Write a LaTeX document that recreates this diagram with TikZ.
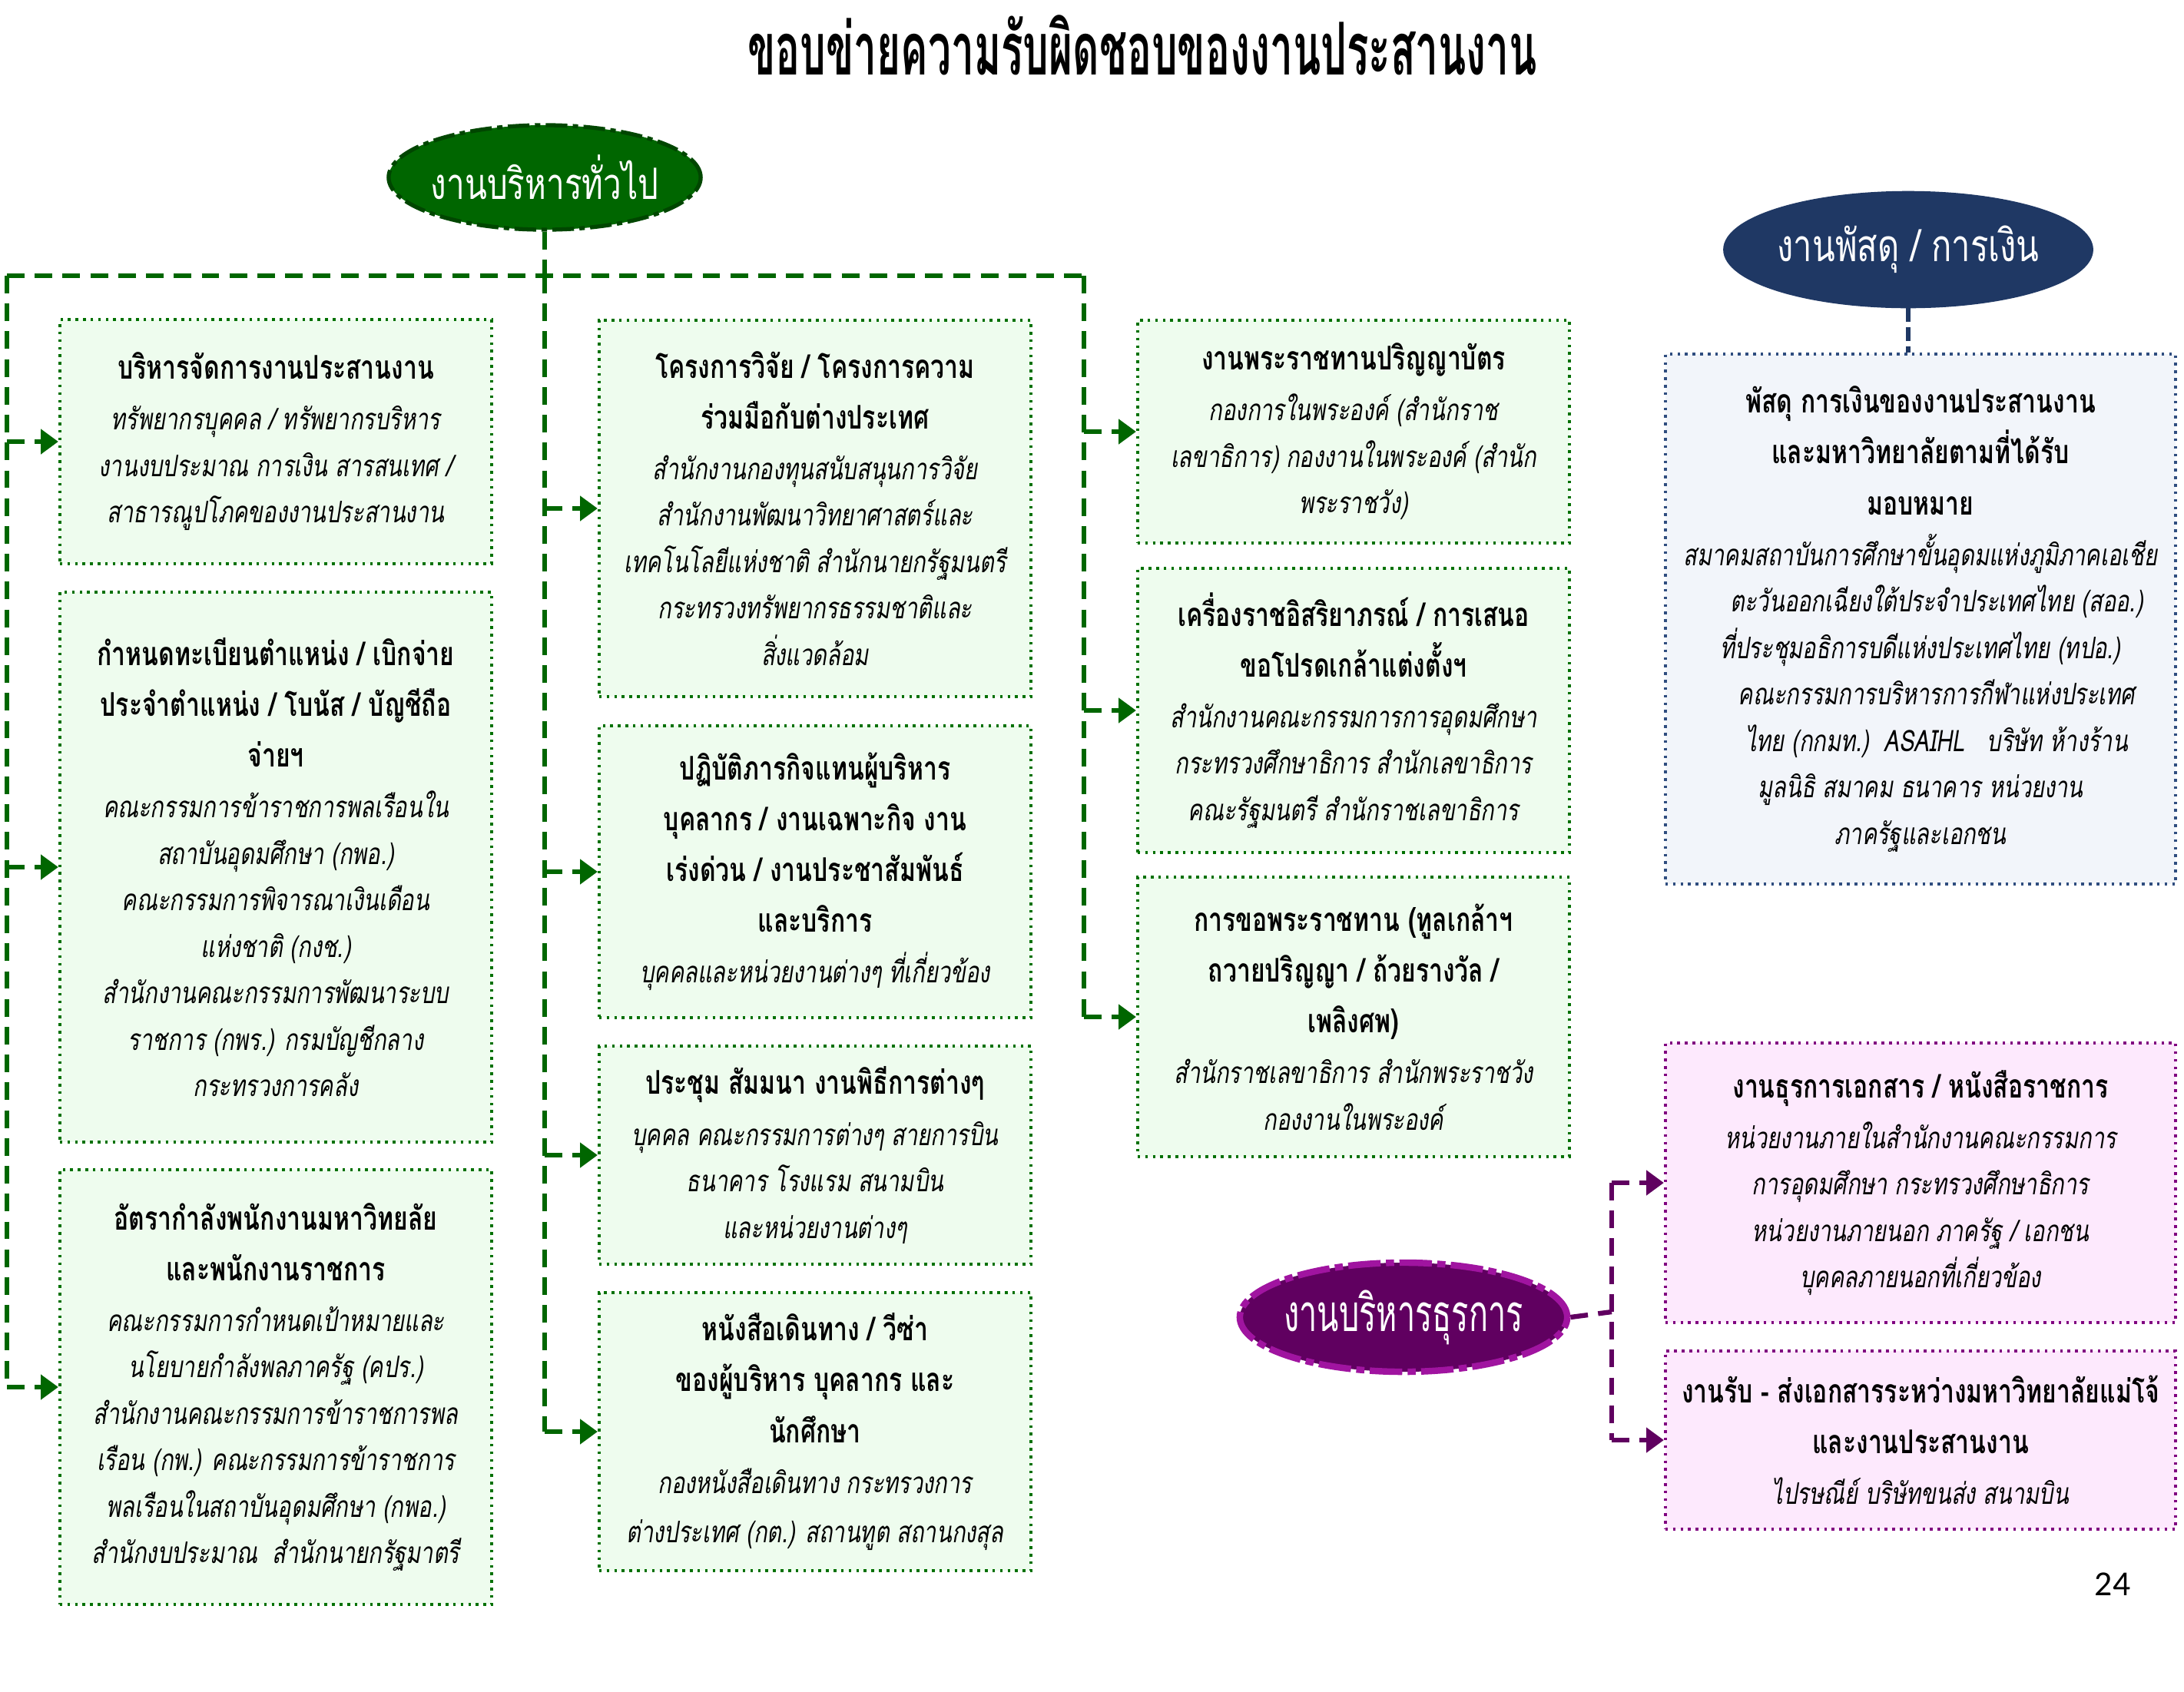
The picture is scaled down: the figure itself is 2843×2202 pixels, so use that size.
\documentclass[tikz,border=0pt]{standalone}
\usepackage{fontspec}
\usetikzlibrary{shapes.geometric,arrows.meta}
\newfontfamily\thaic[Script=Thai,FakeStretch=0.75]{Loma}
\newfontfamily\thait[Script=Thai,FakeStretch=0.56]{Loma}
\newfontfamily\thaip[Script=Thai,FakeStretch=0.62]{Loma}
\newfontfamily\numfont{Carlito}
\definecolor{cGreen}{RGB}{0,102,0}
\definecolor{cGDark}{RGB}{0,70,0}
\definecolor{cGFill}{RGB}{238,252,238}
\definecolor{cGBord}{RGB}{0,112,0}
\definecolor{cNavy}{RGB}{31,56,100}
\definecolor{cNFill}{RGB}{242,245,250}
\definecolor{cNBord}{RGB}{47,77,127}
\definecolor{cPurp}{RGB}{96,0,96}
\definecolor{cPLight}{RGB}{160,20,160}
\definecolor{cPFill}{RGB}{253,233,253}
\definecolor{cPBord}{RGB}{128,0,128}
\newcommand\hb[1]{{\bfseries\fontsize{12.1pt}{17.2pt}\selectfont #1}}
\newcommand\ti[1]{{\itshape #1}}
\newcommand\bl{\\[1.6pt]}
\tikzset{
  boxbase/.style={line width=1.1pt, dash pattern=on 1pt off 1.8pt, inner sep=0pt, align=center,
    font=\thaic\fontsize{11pt}{17.2pt}\selectfont},
  gbox/.style={boxbase, draw=cGBord, fill=cGFill},
  nbox/.style={boxbase, draw=cNBord, fill=cNFill},
  pbox/.style={boxbase, draw=cPBord, fill=cPFill},
  gline/.style={draw=cGreen, line width=1.8pt, dash pattern=on 6.5pt off 3.8pt},
  garrow/.style={gline, -{Triangle[length=6.5pt,width=9pt]}},
  pline/.style={draw=cPurp, line width=1.8pt, dash pattern=on 6.5pt off 3.8pt},
  parrow/.style={pline, -{Triangle[length=6.5pt,width=9pt]}},
  nline/.style={draw=cNavy, line width=1.6pt, dash pattern=on 5pt off 2pt},
  ellbase/.style={ellipse, inner sep=0pt},
  elltext/.style={text=white, inner sep=0pt}
}
\begin{document}
\begin{tikzpicture}[x=0.01cm, y=-0.01cm]
\useasboundingbox (0,0) rectangle (2843,2202);
\fill[white] (0,0) rectangle (2843,2202);

% title
\node[font=\thait\bfseries\fontsize{27pt}{30pt}\selectfont] (title) at (1487,59) {ขอบข่ายความรับผิดชอบของงานประสานงาน};

% ellipses
\node[ellbase, fill=cGreen, draw=cGDark, line width=1.5pt, dash pattern=on 8pt off 2pt on 2pt off 2pt,
  minimum width=4.06cm, minimum height=1.36cm] (GE) at (709,231) {};
\node[elltext, font=\thaic\fontsize{16pt}{20pt}\selectfont] (GEt) at (GE.center) {งานบริหารทั่วไป};
\node[ellbase, fill=cNavy, draw=cNavy, line width=1pt,
  minimum width=4.78cm, minimum height=1.49cm] (NE) at (2484,325) {};
\node[elltext, font=\thaic\fontsize{16.5pt}{20pt}\selectfont] (NEt) at (NE.center) {งานพัสดุ / การเงิน};
\node[ellbase, fill=cPurp, draw=cPLight, line width=2.4pt, dash pattern=on 12pt off 2pt on 3pt off 2pt,
  minimum width=4.26cm, minimum height=1.42cm] (PE) at (1827,1715) {};
\node[elltext, font=\thaip\fontsize{19pt}{22pt}\selectfont] (PEt) at (PE.center) {งานบริหารธุรการ};

% column 1
\node[gbox, minimum width=5.62cm, minimum height=3.17cm] (A) at (359,575) {%
\hb{บริหารจัดการงานประสานงาน}\bl
\ti{ทรัพยากรบุคคล / ทรัพยากรบริหาร}\\
\ti{งานงบประมาณ การเงิน สารสนเทศ /}\\
\ti{สาธารณูปโภคของงานประสานงาน}};
\node[gbox, minimum width=5.62cm, minimum height=7.16cm] (B) at (359,1129) {%
\hb{กำหนดทะเบียนตำแหน่ง / เบิกจ่าย}\bl
\hb{ประจำตำแหน่ง / โบนัส / บัญชีถือ}\bl
\hb{จ่ายฯ}\bl
\ti{คณะกรรมการข้าราชการพลเรือนใน}\\
\ti{สถาบันอุดมศึกษา (กพอ.)}\\
\ti{คณะกรรมการพิจารณาเงินเดือน}\\
\ti{แห่งชาติ (กงช.)}\\
\ti{สำนักงานคณะกรรมการพัฒนาระบบ}\\
\ti{ราชการ (กพร.) กรมบัญชีกลาง}\\
\ti{กระทรวงการคลัง}};
\node[gbox, minimum width=5.62cm, minimum height=5.66cm] (C) at (359,1806) {%
\hb{อัตรากำลังพนักงานมหาวิทยลัย}\bl
\hb{และพนักงานราชการ}\bl
\ti{คณะกรรมการกำหนดเป้าหมายและ}\\
\ti{นโยบายกำลังพลภาครัฐ (คปร.)}\\
\ti{สำนักงานคณะกรรมการข้าราชการพล}\\
\ti{เรือน (กพ.) คณะกรรมการข้าราชการ}\\
\ti{พลเรือนในสถาบันอุดมศึกษา (กพอ.)}\\
\ti{สำนักงบประมาณ~~สำนักนายกรัฐมาตรี}};

% column 2
\node[gbox, minimum width=5.62cm, minimum height=4.90cm] (D) at (1061,662) {%
\hb{โครงการวิจัย / โครงการความ}\bl
\hb{ร่วมมือกับต่างประเทศ}\bl
\ti{สำนักงานกองทุนสนับสนุนการวิจัย}\\
\ti{สำนักงานพัฒนาวิทยาศาสตร์และ}\\
\ti{เทคโนโลยีแห่งชาติ สำนักนายกรัฐมนตรี}\\
\ti{กระทรวงทรัพยากรธรรมชาติและ}\\
\ti{สิ่งแวดล้อม}};
\node[gbox, minimum width=5.62cm, minimum height=3.80cm] (E) at (1061,1135) {%
\hb{ปฏิบัติภารกิจแทนผู้บริหาร}\bl
\hb{บุคลากร / งานเฉพาะกิจ งาน}\bl
\hb{เร่งด่วน / งานประชาสัมพันธ์}\bl
\hb{และบริการ}\bl
\ti{บุคคลและหน่วยงานต่างๆ ที่เกี่ยวข้อง}};
\node[gbox, minimum width=5.62cm, minimum height=2.84cm] (F) at (1061,1504) {%
\hb{ประชุม สัมมนา งานพิธีการต่างๆ}\bl
\ti{บุคคล คณะกรรมการต่างๆ สายการบิน}\\
\ti{ธนาคาร โรงแรม สนามบิน}\\
\ti{และหน่วยงานต่างๆ}};
\node[gbox, minimum width=5.62cm, minimum height=3.62cm] (G) at (1061,1864) {%
\hb{หนังสือเดินทาง / วีซ่า}\bl
\hb{ของผู้บริหาร บุคลากร และ}\bl
\hb{นักศึกษา}\bl
\ti{กองหนังสือเดินทาง กระทรวงการ}\\[1pt]
\ti{ต่างประเทศ (กต.) สถานทูต สถานกงสุล}};

% column 3
\node[gbox, minimum width=5.62cm, minimum height=2.90cm] (H) at (1762,562) {%
\hb{งานพระราชทานปริญญาบัตร}\bl
\ti{กองการในพระองค์ (สำนักราช}\\
\ti{เลขาธิการ) กองงานในพระองค์ (สำนัก}\\
\ti{พระราชวัง)}};
\node[gbox, minimum width=5.62cm, minimum height=3.70cm] (I) at (1762,925) {%
\hb{เครื่องราชอิสริยาภรณ์ / การเสนอ}\bl
\hb{ขอโปรดเกล้าแต่งตั้งฯ}\bl
\ti{สำนักงานคณะกรรมการการอุดมศึกษา}\\
\ti{กระทรวงศึกษาธิการ สำนักเลขาธิการ}\\
\ti{คณะรัฐมนตรี สำนักราชเลขาธิการ}};
\node[gbox, minimum width=5.62cm, minimum height=3.63cm] (J) at (1762,1324) {%
\hb{การขอพระราชทาน (ทูลเกล้าฯ}\bl
\hb{ถวายปริญญา / ถ้วยรางวัล /}\bl
\hb{เพลิงศพ)}\bl
\ti{สำนักราชเลขาธิการ สำนักพระราชวัง}\\
\ti{กองงานในพระองค์}};

% column 4
\node[nbox, minimum width=6.64cm, minimum height=6.89cm] (K) at (2500,806) {%
\hb{พัสดุ การเงินของงานประสานงาน}\bl
\hb{และมหาวิทยาลัยตามที่ได้รับ}\bl
\hb{มอบหมาย}\bl
\ti{สมาคมสถาบันการศึกษาขั้นอุดมแห่งภูมิภาคเอเชีย}\\
\ti{\hspace*{12pt}ตะวันออกเฉียงใต้ประจำประเทศไทย (สออ.)}\\
\ti{ที่ประชุมอธิการบดีแห่งประเทศไทย (ทปอ.)}\\
\ti{\hspace*{12pt}คณะกรรมการบริหารการกีฬาแห่งประเทศ}\\
\ti{\hspace*{12pt}ไทย (กกมท.)~~ASAIHL~~~บริษัท ห้างร้าน}\\
\ti{มูลนิธิ สมาคม ธนาคาร หน่วยงาน}\\
\ti{ภาครัฐและเอกชน}};
\node[pbox, minimum width=6.64cm, minimum height=3.64cm] (L) at (2500,1540) {%
\hb{งานธุรการเอกสาร / หนังสือราชการ}\bl
\ti{หน่วยงานภายในสำนักงานคณะกรรมการ}\\
\ti{การอุดมศึกษา กระทรวงศึกษาธิการ}\\
\ti{หน่วยงานภายนอก ภาครัฐ / เอกชน}\\
\ti{บุคคลภายนอกที่เกี่ยวข้อง}};
\node[pbox, minimum width=6.64cm, minimum height=2.32cm] (M) at (2500,1875) {%
\hb{งานรับ - ส่งเอกสารระหว่างมหาวิทยาลัยแม่โจ้}\bl
\hb{และงานประสานงาน}\bl
\ti{ไปรษณีย์ บริษัทขนส่ง สนามบิน}};

% page number
\node[font=\numfont\fontsize{13pt}{15pt}\selectfont] (pg) at (2750,2063) {24};

% green connectors
\coordinate (gH) at (709,359);
\coordinate (gL) at (9,359);
\coordinate (gR) at (1411,359);
\draw[gline] (GE.south) -- (gH);
\draw[gline] (gL) -- (gR);
\draw[gline] (gL) -- (gL |- C.west);
\draw[gline] (gH) -- (gH |- G.west);
\draw[gline] (gR) -- (gR |- J.west);
\draw[garrow] (gL |- A.west) -- (A.west);
\draw[garrow] (gL |- B.west) -- (B.west);
\draw[garrow] (gL |- C.west) -- (C.west);
\draw[garrow] (gH |- D.west) -- (D.west);
\draw[garrow] (gH |- E.west) -- (E.west);
\draw[garrow] (gH |- F.west) -- (F.west);
\draw[garrow] (gH |- G.west) -- (G.west);
\draw[garrow] (gR |- H.west) -- (H.west);
\draw[garrow] (gR |- I.west) -- (I.west);
\draw[garrow] (gR |- J.west) -- (J.west);

% navy connector
\draw[nline] (NE.south) -- (NE.south |- K.north);

% purple connectors
\coordinate (pX) at (2098,1708);
\draw[pline] (PE.east) -- (pX);
\draw[pline] (pX |- L.west) -- (pX |- M.west);
\draw[parrow] (pX |- L.west) -- (L.west);
\draw[parrow] (pX |- M.west) -- (M.west);
\end{tikzpicture}
\end{document}
